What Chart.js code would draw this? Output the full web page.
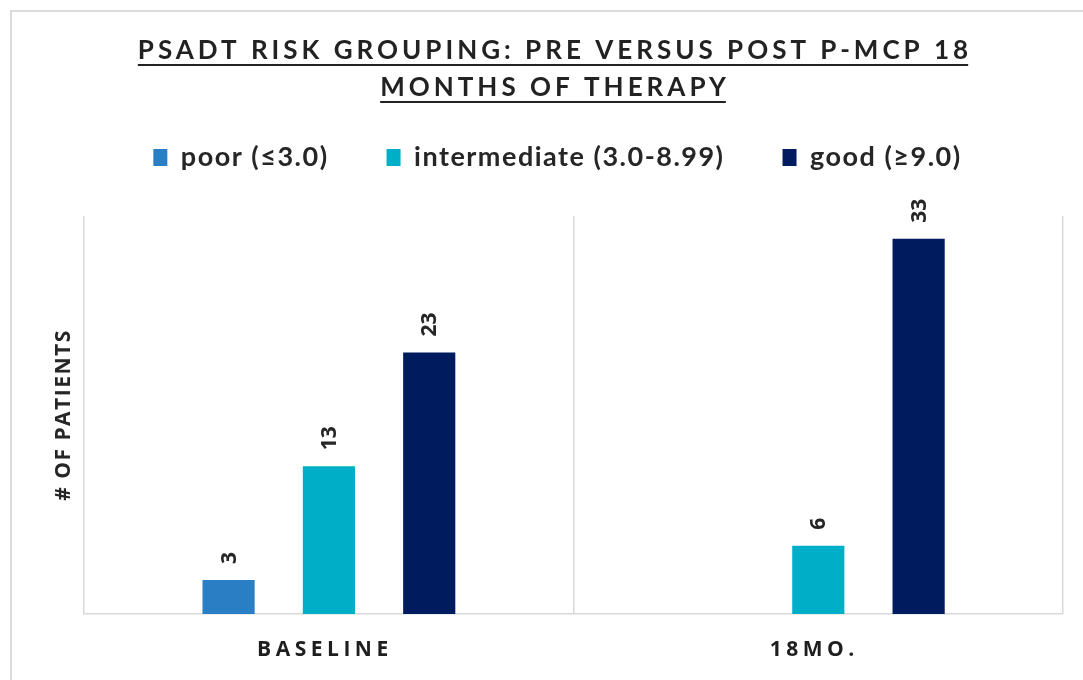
<!DOCTYPE html>
<html>
<head>
<meta charset="utf-8">
<script src="https://cdn.jsdelivr.net/npm/chart.js@4.4.1/dist/chart.umd.min.js"></script>
<style>
  html, body { margin: 0; padding: 0; background: #fff; }
  #wrap { width: 1083px; height: 680px; }
</style>
</head>
<body>
<div id="wrap"><canvas id="chart"></canvas></div>
<script>
const titleLines = ['PSADT RISK GROUPING: PRE VERSUS POST P-MCP 18', 'MONTHS OF THERAPY'];
const categories = ['BASELINE', '18MO.'];
const seriesNames = ['poor (\u22643.0)', 'intermediate (3.0-8.99)', 'good (\u22659.0)'];
const poor = [3, null];
const intermediate = [13, 6];
const good = [23, 33];
const seriesColors = ['#2a7fc4', '#00afc7', '#001b5e'];

const textColor = '#262626';
const gridColor = '#d9d9d9';

// frame + underlined, letter-spaced title (Chart.js title can't do either)
const decorPlugin = {
  id: 'decor',
  beforeDraw(chart) {
    const ctx = chart.ctx;
    ctx.save();
    ctx.strokeStyle = '#dcdcdc';
    ctx.lineWidth = 2;
    ctx.strokeRect(11, 11, chart.width + 20, chart.height + 20);
    ctx.restore();
  },
  afterDraw(chart) {
    const ctx = chart.ctx;
    ctx.save();
    ctx.font = 'bold 26px Lato';
    ctx.letterSpacing = '4px';
    ctx.fillStyle = '#222';
    ctx.textAlign = 'center';
    ctx.textBaseline = 'alphabetic';
    const cx = 555;
    titleLines.forEach((line, i) => {
      const y = 59 + i * 37;
      ctx.fillText(line, cx, y);
      const w = ctx.measureText(line).width - 4;
      ctx.fillRect(cx - 2 - w / 2, y + 5, w, 2);
    });
    ctx.restore();

    // category labels with letter spacing
    const x = chart.scales.x;
    ctx.save();
    ctx.font = 'bold 21px "Open Sans"';
    ctx.letterSpacing = '4.5px';
    ctx.fillStyle = '#1e1e1e';
    ctx.textAlign = 'center';
    ctx.textBaseline = 'middle';
    categories.forEach((c, i) => {
      ctx.fillText(c, x.getPixelForTick(i) - 4, x.top + 36);
    });
    ctx.restore();
  }
};

// rotated value labels above bars
const valueLabels = {
  id: 'valueLabels',
  afterDatasetsDraw(chart) {
    const ctx = chart.ctx;
    ctx.save();
    ctx.font = 'bold 21px "Open Sans"';
    ctx.fillStyle = textColor;
    ctx.textAlign = 'left';
    ctx.textBaseline = 'middle';
    chart.data.datasets.forEach((ds, di) => {
      const meta = chart.getDatasetMeta(di);
      meta.data.forEach((bar, i) => {
        const v = ds.data[i];
        if (v === null || v === undefined) return;
        ctx.save();
        ctx.translate(bar.x, bar.y - 16);
        ctx.rotate(-Math.PI / 2);
        ctx.fillText(String(v), 0, 1);
        ctx.restore();
      });
    });
    ctx.restore();
  }
};

// letter spacing for legend + axis title, extra room under the legend, nudge legend right
const spacing = {
  id: 'spacing',
  beforeInit(chart) {
    const lg = chart.legend;
    if (!lg) return;
    const fit = lg.fit;
    lg.fit = function () {
      fit.call(this);
      this.height += 35;
    };
  },
  beforeLayout(chart) { chart.ctx.letterSpacing = '1.5px'; },
  afterLayout(chart) {
    chart.ctx.letterSpacing = '0px';
    chart.legend.left += 12;
    chart.legend.right += 12;
  },
  beforeDraw(chart) { chart.ctx.letterSpacing = '1.5px'; },
  beforeDatasetsDraw(chart) { chart.ctx.letterSpacing = '0px'; }
};

new Chart(document.getElementById('chart'), {
  type: 'bar',
  data: {
    labels: categories,
    datasets: [
      { label: seriesNames[0], data: poor, backgroundColor: seriesColors[0] },
      { label: seriesNames[1], data: intermediate, backgroundColor: seriesColors[1] },
      { label: seriesNames[2], data: good, backgroundColor: seriesColors[2] }
    ]
  },
  options: {
    responsive: true,
    maintainAspectRatio: false,
    animation: false,
    categoryPercentage: 0.615,
    barPercentage: 0.52,
    layout: { padding: { top: 86, left: 28, right: 20, bottom: 66 } },
    plugins: {
      title: { display: false },
      tooltip: { enabled: false },
      legend: {
        position: 'top',
        labels: {
          boxWidth: 14,
          boxHeight: 17,
          padding: 58,
          color: textColor,
          font: { family: 'Lato', size: 27, weight: 'bold' }
        }
      }
    },
    scales: {
      x: {
        offset: true,
        grid: { color: gridColor, lineWidth: 1.5, drawTicks: false, offset: true },
        border: { color: gridColor, width: 1.5 },
        ticks: { display: false }
      },
      y: {
        min: 0,
        max: 35,
        grid: { display: false },
        border: { display: false },
        ticks: { display: false },
        title: {
          display: true,
          text: '# OF PATIENTS',
          color: textColor,
          padding: { top: 23, bottom: 0 },
          font: { family: 'Open Sans', size: 21, weight: 'bold' }
        }
      }
    }
  },
  plugins: [decorPlugin, valueLabels, spacing]
});
</script>
</body>
</html>
